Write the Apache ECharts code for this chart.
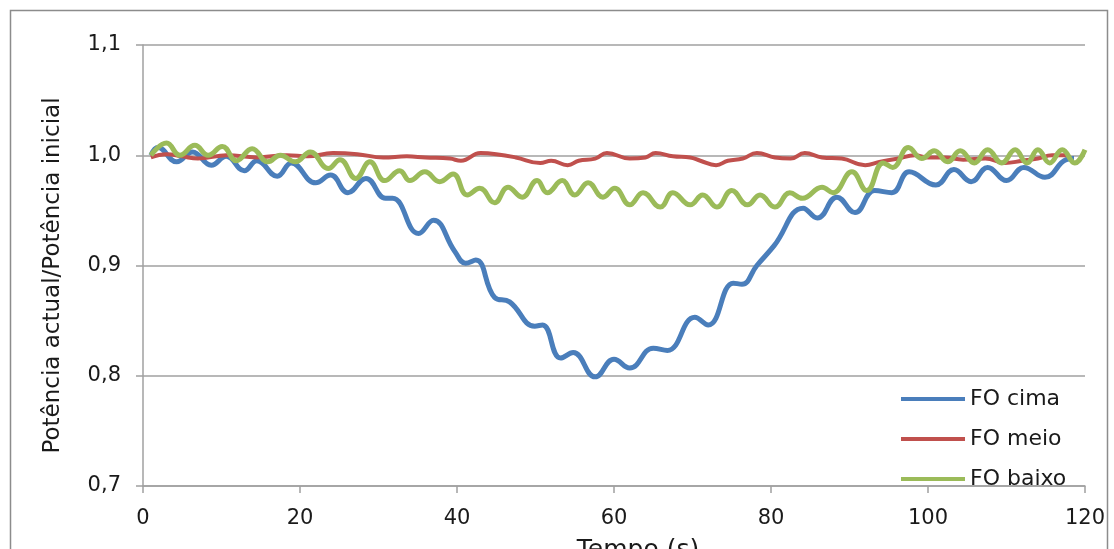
<!DOCTYPE html>
<html>
<head>
<meta charset="utf-8">
<script src="https://cdn.jsdelivr.net/npm/echarts@6/dist/echarts.min.js"></script>
<style>
html, body { margin: 0; padding: 0; background: #fff; }
#chart { width: 1114px; height: 549px; }
</style>
</head>
<body>
<div id="chart"></div>
<script>
// FO cima
var tCima = [1, 1.9, 4.3, 6.3, 8.7, 10.6, 12.9, 14.5, 17.1, 18.9, 22.0, 23.9, 26.1, 28.4, 30.9, 31.8, 35.1, 37.0, 39.7, 41.1, 42.4, 44.8, 46.7, 49.9, 50.9, 53.2, 54.8, 57.6, 60.0, 62.0, 65.0, 66.8, 70.3, 72.0, 75.2, 76.3, 78.2, 80.4, 84.1, 85.9, 88.4, 90.7, 93.2, 95.4, 97.6, 101.0, 103.3, 105.5, 107.6, 110.0, 112.2, 114.9, 117.6, 118.6];
var vCima = [1.000, 1.007, 0.994, 1.003, 0.991, 0.999, 0.986, 0.995, 0.981, 0.993, 0.975, 0.982, 0.966, 0.979, 0.961, 0.961, 0.929, 0.941, 0.913, 0.902, 0.905, 0.871, 0.867, 0.845, 0.846, 0.816, 0.821, 0.799, 0.815, 0.807, 0.825, 0.823, 0.853, 0.846, 0.884, 0.883, 0.900, 0.918, 0.952, 0.943, 0.962, 0.948, 0.968, 0.966, 0.985, 0.973, 0.987, 0.976, 0.989, 0.977, 0.989, 0.980, 0.996, 0.997];

// FO meio
var tMeio = [1, 3, 5, 7, 10.7, 14.5, 18.3, 21, 24.2, 27.3, 30.6, 33.6, 36, 39.1, 40.5, 43, 45, 47.5, 50.6, 52, 54.1, 55.5, 57.6, 59.1, 62, 64, 65.3, 67.5, 69.7, 71, 73, 74.5, 76.4, 78.2, 80.5, 82.5, 84.3, 86.5, 89, 92, 93.8, 96.2, 98.3, 100, 102, 104.5, 107.3, 109.8, 112, 114, 115.8, 117.7];
var vMeio = [0.998, 1.001, 0.999, 0.997, 1.000, 0.998, 1.000, 0.999, 1.002, 1.001, 0.998, 0.999, 0.998, 0.997, 0.995, 1.002, 1.001, 0.998, 0.993, 0.995, 0.991, 0.995, 0.997, 1.002, 0.997, 0.998, 1.002, 0.999, 0.998, 0.995, 0.991, 0.995, 0.997, 1.002, 0.998, 0.997, 1.002, 0.998, 0.997, 0.991, 0.994, 0.997, 1.000, 0.998, 0.998, 0.996, 0.997, 0.993, 0.995, 0.997, 1.000, 1.000];

// FO baixo
var tBaixo = [1, 3, 4.7, 6.6, 8.3, 10.1, 11.9, 13.9, 15.9, 17.5, 19.4, 21.3, 23.6, 25.1, 27.1, 28.9, 30.8, 32.7, 34, 35.9, 37.8, 39.5, 41.3, 42.9, 44.8, 46.5, 48.3, 50.2, 51.5, 53.4, 55, 56.7, 58.6, 60.1, 62, 63.7, 65.9, 67.5, 69.7, 71.3, 73.1, 75, 77, 78.6, 80.5, 82.4, 84, 86.5, 87.9, 90.3, 92.2, 94.3, 95.5, 97.5, 99.2, 100.8, 102.5, 104.1, 105.9, 107.6, 109.4, 111.1, 112.6, 114.0, 115.5, 117.1, 118.7, 120];
var vBaixo = [1.000, 1.011, 1.000, 1.009, 1.000, 1.008, 0.995, 1.006, 0.994, 1.000, 0.994, 1.003, 0.988, 0.996, 0.979, 0.994, 0.977, 0.986, 0.977, 0.985, 0.976, 0.983, 0.964, 0.970, 0.957, 0.971, 0.962, 0.977, 0.966, 0.977, 0.964, 0.975, 0.962, 0.970, 0.955, 0.966, 0.953, 0.966, 0.955, 0.964, 0.953, 0.968, 0.955, 0.964, 0.953, 0.966, 0.961, 0.971, 0.966, 0.985, 0.968, 0.993, 0.989, 1.007, 0.997, 1.004, 0.994, 1.004, 0.993, 1.005, 0.993, 1.005, 0.993, 1.005, 0.993, 1.005, 0.993, 1.005];

var xTicks = [0, 20, 40, 60, 80, 100, 120];
var yTicks = [0.7, 0.8, 0.9, 1.0, 1.1];

function zip(t, v) {
	return t.map(function (x, i) { return [x, v[i]]; });
}

var chart = echarts.init(document.getElementById('chart'));
var fnt = 'DejaVu Sans';

var option = {
	backgroundColor: '#fff',
	animation: false,
	graphic: [{
		type: 'rect',
		left: 8, top: 8,
		shape: { width: 1097, height: 580 },
		style: { fill: 'none', stroke: '#8c8c8c', lineWidth: 1.5 }
	}],
	grid: { left: 143, right: 29, top: 45, bottom: 63, outerBoundsMode: 'none', containLabel: false },
	legend: {
		orient: 'vertical',
		left: 896, top: 383,
		itemWidth: 64, itemHeight: 4,
		itemGap: 18,
		icon: 'rect',
		textStyle: { fontFamily: fnt, fontSize: 22, color: '#1a1a1a' },
		data: ['FO cima', 'FO meio', 'FO baixo']
	},
	xAxis: {
		type: 'value',
		min: 0, max: 120, interval: 20,
		name: 'Tempo (s)',
		nameLocation: 'middle',
		nameGap: 52,
		nameTextStyle: { fontFamily: fnt, fontSize: 25, color: '#1a1a1a', padding: [0, 0, 0, 48] },
		axisLine: { show: true, lineStyle: { color: '#a0a0a0', width: 1.5 } },
		axisTick: { show: true, length: 7, lineStyle: { color: '#a0a0a0', width: 1.5 } },
		axisLabel: { fontFamily: fnt, fontSize: 21, color: '#1a1a1a', margin: 22,
			formatter: function (v) { return xTicks.indexOf(v) >= 0 ? String(v) : ''; } },
		splitLine: { show: false }
	},
	yAxis: {
		type: 'value',
		min: 0.7, max: 1.1, interval: 0.1,
		name: 'Potência actual/Potência inicial',
		nameLocation: 'middle',
		nameGap: 78,
		nameTextStyle: { fontFamily: fnt, fontSize: 23, color: '#1a1a1a', padding: [0, 20, 0, 0] },
		axisLine: { show: true, lineStyle: { color: '#a0a0a0', width: 1.5 } },
		axisTick: { show: true, inside: false, length: 7, lineStyle: { color: '#a0a0a0', width: 1.5 } },
		axisLabel: {
			fontFamily: fnt, fontSize: 21, color: '#1a1a1a', margin: 22,
			formatter: function (v) { return v.toFixed(1).replace('.', ','); }
		},
		splitLine: { show: true, lineStyle: { color: '#a0a0a0', width: 1.5 } }
	},
	series: [
		{
			name: 'FO cima', type: 'line', data: zip(tCima, vCima),
			smooth: 0.45, symbol: 'none',
			lineStyle: { color: '#4a7ebb', width: 5 }, itemStyle: { color: '#4a7ebb' }
		},
		{
			name: 'FO meio', type: 'line', data: zip(tMeio, vMeio),
			smooth: 0.45, symbol: 'none',
			lineStyle: { color: '#c0504d', width: 4 }, itemStyle: { color: '#c0504d' }
		},
		{
			name: 'FO baixo', type: 'line', data: zip(tBaixo, vBaixo),
			smooth: 0.45, symbol: 'none',
			lineStyle: { color: '#9bbb59', width: 5 }, itemStyle: { color: '#9bbb59' }
		}
	]
};

chart.setOption(option);
</script>
</body>
</html>
